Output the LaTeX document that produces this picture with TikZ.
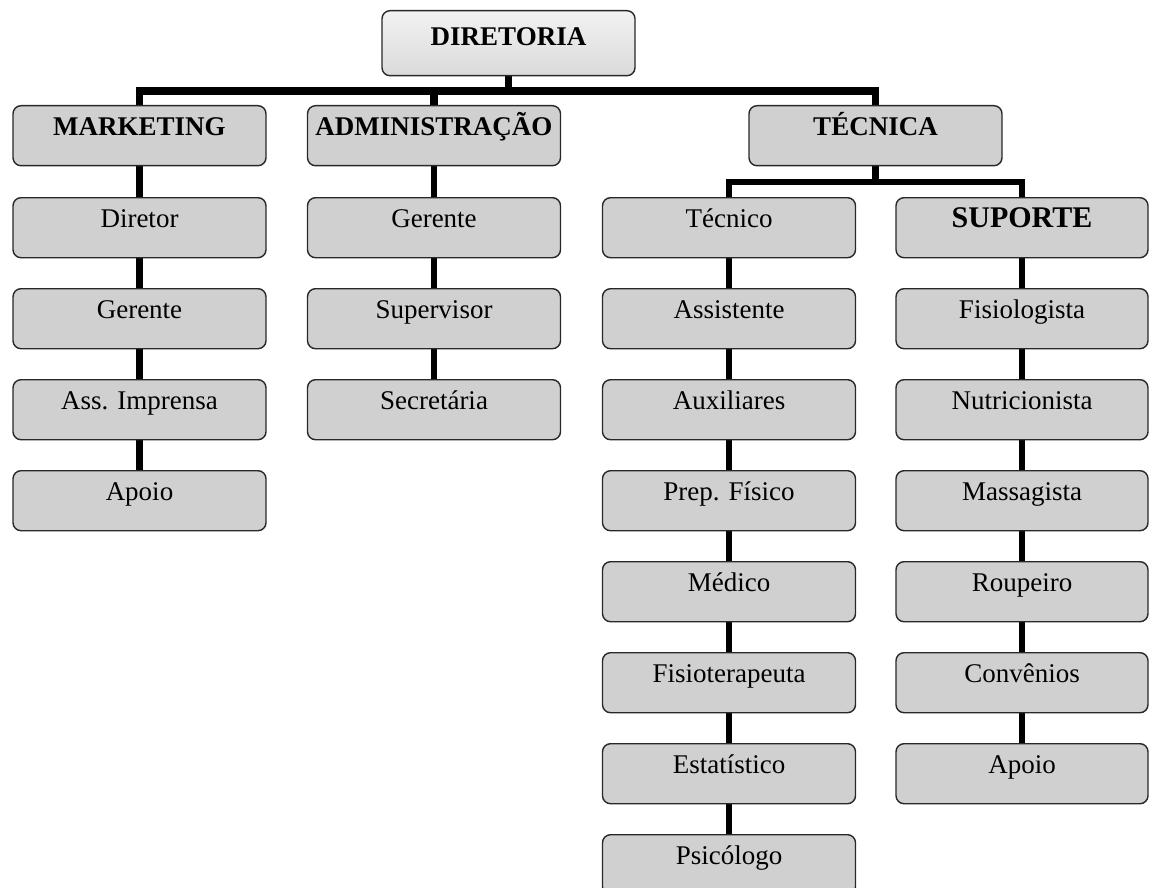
\documentclass[tikz,border=0pt]{standalone}
\usepackage{fontspec}
\setmainfont{Liberation Serif}
\usetikzlibrary{backgrounds}
\definecolor{boxfill}{RGB}{208,208,208}
\definecolor{boxline}{RGB}{40,40,40}
\definecolor{dirtop}{RGB}{242,242,242}
\definecolor{dirbot}{RGB}{218,218,218}
\begin{document}
\begin{tikzpicture}[x=1pt,y=-1pt,
  box/.style={draw=boxline, line width=1.4pt, rounded corners=8pt, fill=boxfill,
    minimum width=253pt, inner sep=0pt, text height=30pt, text depth=30pt,
    anchor=north, font=\fontsize{27}{32}\selectfont},
  hdr/.style={box, font=\fontsize{27}{32}\selectfont\bfseries},
  dirbox/.style={hdr, fill=none, top color=dirtop, bottom color=dirbot, text height=35pt},
  link/.style={line width=6.5pt, draw=black, line join=miter},
  bar/.style={link, line width=7.5pt}]
\useasboundingbox (0,0) rectangle (1149,888);

% top
\node[dirbox] (dir) at (508.5,10) {DIRETORIA};
% level 1
\node[hdr] (mkt) at (139.5,105) {MARKETING};
\node[hdr] (adm) at (434,105) {ADMINISTRAÇÃO};
\node[hdr] (tec) at (875.5,105) {TÉCNICA};

% marketing column
\node[box] (m1) at (139.5,197) {Diretor};
\node[box] (m2) at (139.5,288) {Gerente};
\node[box] (m3) at (139.5,379) {Ass. Imprensa};
\node[box] (m4) at (139.5,470) {Apoio};

% administration column
\node[box] (a1) at (434,197) {Gerente};
\node[box] (a2) at (434,288) {Supervisor};
\node[box] (a3) at (434,379) {Secretária};

% technical column
\node[box] (t1) at (729,197) {Técnico};
\node[box] (t2) at (729,288) {Assistente};
\node[box] (t3) at (729,379) {Auxiliares};
\node[box] (t4) at (729,470) {Prep. Físico};
\node[box] (t5) at (729,561) {Médico};
\node[box] (t6) at (729,652) {Fisioterapeuta};
\node[box] (t7) at (729,743) {Estatístico};
\node[box] (t8) at (729,834) {Psicólogo};

% support column
\node[hdr, minimum width=252pt, font=\fontsize{30}{34}\selectfont\bfseries] (s0) at (1022,197) {SUPORTE};
\node[box, minimum width=252pt] (s1) at (1022,288) {Fisiologista};
\node[box, minimum width=252pt] (s2) at (1022,379) {Nutricionista};
\node[box, minimum width=252pt] (s3) at (1022,470) {Massagista};
\node[box, minimum width=252pt] (s4) at (1022,561) {Roupeiro};
\node[box, minimum width=252pt] (s5) at (1022,652) {Convênios};
\node[box, minimum width=252pt] (s6) at (1022,743) {Apoio};

\coordinate (mainbar) at (0,91);
\coordinate (tecbar) at (0,182);

\begin{scope}[on background layer]
  \draw[bar] (dir.south) -- (dir.south |- mainbar) -| (mkt.north);
  \draw[bar] (dir.south |- mainbar) -| (adm.north);
  \draw[bar] (dir.south |- mainbar) -| (tec.north);
  \draw[link] (tec.south) -- (tec.south |- tecbar) -| (t1.north);
  \draw[link] (tec.south |- tecbar) -| (s0.north);
  \foreach \a/\b in {mkt/m1,m1/m2,m2/m3,m3/m4,
                     adm/a1,a1/a2,a2/a3,
                     t1/t2,t2/t3,t3/t4,t4/t5,t5/t6,t6/t7,t7/t8,
                     s0/s1,s1/s2,s2/s3,s3/s4,s4/s5,s5/s6}
    \draw[link] (\a.south) -- (\b.north);
\end{scope}
\end{tikzpicture}
\end{document}
